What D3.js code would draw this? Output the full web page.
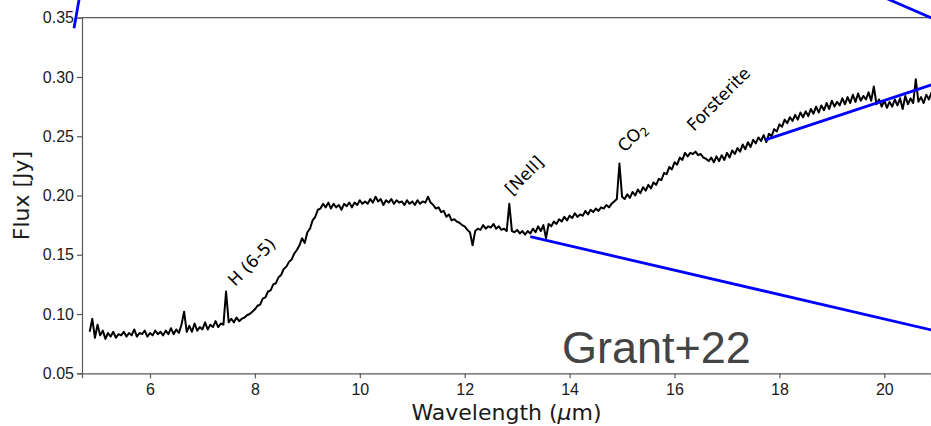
<!DOCTYPE html>
<html>
<head>
<meta charset="utf-8">
<script src="https://cdn.jsdelivr.net/npm/d3@7"></script>
<style>
  body { margin: 0; background: #fff; }
  svg { display: block; font-family: "DejaVu Sans", sans-serif; }
  .axis text { font-size: 16px; fill: #1a1a1a; }
  .axis path, .axis line { stroke: #5a5a5a; stroke-width: 1.2; }
</style>
</head>
<body>
<svg width="931" height="426"></svg>
<script>
// spectrum (wavelength in micron, flux in Jy)
var wavelength = [
  4.85, 4.90, 4.95,
  5.00, 5.05, 5.10, 5.15, 5.20, 5.25, 5.30, 5.35, 5.40, 5.45, 5.50, 5.55, 5.60, 5.65, 5.70, 5.75, 5.80, 5.85, 5.90, 5.95,
  6.00, 6.05, 6.10, 6.15, 6.20, 6.25, 6.30, 6.35, 6.40, 6.45, 6.50, 6.55, 6.60, 6.65, 6.70, 6.75, 6.80, 6.85, 6.90, 6.95,
  7.00, 7.05, 7.10, 7.15, 7.20, 7.25, 7.30, 7.35, 7.40, 7.45, 7.50, 7.55, 7.60, 7.65, 7.70, 7.75, 7.80, 7.85, 7.90, 7.95,
  8.00, 8.05, 8.10, 8.15, 8.20, 8.25, 8.30, 8.35, 8.40, 8.45, 8.50, 8.55, 8.60, 8.65, 8.70, 8.75, 8.80, 8.85, 8.90, 8.95,
  9.00, 9.05, 9.10, 9.15, 9.20, 9.25, 9.30, 9.35, 9.40, 9.45, 9.50, 9.55, 9.60, 9.65, 9.70, 9.75, 9.80, 9.85, 9.90, 9.95,
  10.00, 10.05, 10.10, 10.15, 10.20, 10.25, 10.30, 10.35, 10.40, 10.45, 10.50, 10.55, 10.60, 10.65, 10.70, 10.75, 10.80, 10.85, 10.90, 10.95,
  11.00, 11.05, 11.10, 11.15, 11.20, 11.25, 11.30, 11.35, 11.40, 11.45, 11.50, 11.55, 11.60, 11.65, 11.70, 11.75, 11.80, 11.85, 11.90, 11.95,
  12.00, 12.05, 12.10, 12.15, 12.20, 12.25, 12.30, 12.35, 12.40, 12.45, 12.50, 12.55, 12.60, 12.65, 12.70, 12.75, 12.80, 12.85, 12.90, 12.95,
  13.00, 13.05, 13.10, 13.15, 13.20, 13.25, 13.30, 13.35, 13.40, 13.45, 13.50, 13.55, 13.60, 13.65, 13.70, 13.75, 13.80, 13.85, 13.90, 13.95,
  14.00, 14.05, 14.10, 14.15, 14.20, 14.25, 14.30, 14.35, 14.40, 14.45, 14.50, 14.55, 14.60, 14.65, 14.70, 14.75, 14.80, 14.85, 14.90, 14.95,
  15.00, 15.05, 15.10, 15.15, 15.20, 15.25, 15.30, 15.35, 15.40, 15.45, 15.50, 15.55, 15.60, 15.65, 15.70, 15.75, 15.80, 15.85, 15.90, 15.95,
  16.00, 16.05, 16.10, 16.15, 16.20, 16.25, 16.30, 16.35, 16.40, 16.45, 16.50, 16.55, 16.60, 16.65, 16.70, 16.75, 16.80, 16.85, 16.90, 16.95,
  17.00, 17.05, 17.10, 17.15, 17.20, 17.25, 17.30, 17.35, 17.40, 17.45, 17.50, 17.55, 17.60, 17.65, 17.70, 17.75, 17.80, 17.85, 17.90, 17.95,
  18.00, 18.05, 18.10, 18.15, 18.20, 18.25, 18.30, 18.35, 18.40, 18.45, 18.50, 18.55, 18.60, 18.65, 18.70, 18.75, 18.80, 18.85, 18.90, 18.95,
  19.00, 19.05, 19.10, 19.15, 19.20, 19.25, 19.30, 19.35, 19.40, 19.45, 19.50, 19.55, 19.60, 19.65, 19.70, 19.75, 19.80, 19.85, 19.90, 19.95,
  20.00, 20.05, 20.10, 20.15, 20.20, 20.25, 20.30, 20.35, 20.40, 20.45, 20.50, 20.55, 20.60, 20.65, 20.70, 20.75, 20.80, 20.85, 20.90
];

var flux = [
  0.085, 0.096, 0.080,
  0.091, 0.082, 0.086, 0.079, 0.084, 0.081, 0.085, 0.080, 0.083, 0.082, 0.085, 0.081, 0.084, 0.082, 0.087, 0.081, 0.084, 0.083, 0.086, 0.081,
  0.084, 0.082, 0.086, 0.083, 0.085, 0.082, 0.086, 0.083, 0.088, 0.083, 0.087, 0.084, 0.091, 0.102, 0.085, 0.090, 0.085, 0.092, 0.086, 0.089,
  0.087, 0.093, 0.087, 0.091, 0.089, 0.094, 0.089, 0.092, 0.091, 0.119, 0.093, 0.096, 0.093, 0.097, 0.094, 0.096, 0.097, 0.099, 0.100, 0.102,
  0.104, 0.107, 0.108, 0.113, 0.114, 0.119, 0.120, 0.125, 0.126, 0.131, 0.133, 0.138, 0.140, 0.144, 0.146, 0.151, 0.154, 0.158, 0.164, 0.160,
  0.169, 0.172, 0.179, 0.182, 0.188, 0.189, 0.193, 0.190, 0.194, 0.189, 0.193, 0.190, 0.192, 0.188, 0.193, 0.191, 0.194, 0.190, 0.194, 0.192,
  0.196, 0.193, 0.195, 0.193, 0.197, 0.194, 0.199, 0.195, 0.197, 0.192, 0.196, 0.194, 0.197, 0.193, 0.196, 0.194, 0.195, 0.192, 0.196, 0.193,
  0.195, 0.192, 0.196, 0.193, 0.195, 0.194, 0.199, 0.194, 0.192, 0.189, 0.190, 0.186, 0.187, 0.182, 0.184, 0.179, 0.180, 0.178, 0.177, 0.175,
  0.174, 0.171, 0.169, 0.158, 0.170, 0.172, 0.171, 0.175, 0.172, 0.174, 0.173, 0.176, 0.172, 0.174, 0.171, 0.172, 0.170, 0.193, 0.170, 0.169,
  0.171, 0.168, 0.170, 0.167, 0.170, 0.168, 0.172, 0.169, 0.174, 0.170, 0.175, 0.164, 0.176, 0.174, 0.178, 0.176, 0.180, 0.178, 0.182, 0.179,
  0.183, 0.181, 0.185, 0.182, 0.184, 0.183, 0.187, 0.184, 0.188, 0.186, 0.189, 0.187, 0.190, 0.189, 0.192, 0.190, 0.193, 0.195, 0.197, 0.227,
  0.199, 0.197, 0.201, 0.198, 0.203, 0.200, 0.205, 0.202, 0.207, 0.204, 0.209, 0.206, 0.211, 0.209, 0.214, 0.213, 0.219, 0.218, 0.224, 0.222,
  0.228, 0.226, 0.232, 0.230, 0.236, 0.233, 0.236, 0.235, 0.237, 0.234, 0.235, 0.232, 0.231, 0.229, 0.232, 0.228, 0.233, 0.229, 0.234, 0.230,
  0.236, 0.232, 0.238, 0.235, 0.240, 0.237, 0.243, 0.239, 0.245, 0.241, 0.247, 0.244, 0.249, 0.246, 0.251, 0.245, 0.252, 0.250, 0.256, 0.254,
  0.260, 0.258, 0.264, 0.261, 0.266, 0.263, 0.268, 0.264, 0.270, 0.266, 0.271, 0.267, 0.273, 0.269, 0.275, 0.270, 0.276, 0.272, 0.278, 0.273,
  0.280, 0.275, 0.279, 0.276, 0.282, 0.277, 0.283, 0.278, 0.285, 0.279, 0.286, 0.280, 0.284, 0.281, 0.287, 0.280, 0.292, 0.277, 0.281, 0.275,
  0.280, 0.274, 0.279, 0.275, 0.281, 0.276, 0.282, 0.273, 0.284, 0.277, 0.282, 0.278, 0.298, 0.279, 0.283, 0.278, 0.285, 0.281, 0.287
];

// blue lines (two end points each)
var blueWave = [[4.551, 4.663], [19.887, 21.06], [13.25, 21.0], [17.73, 21.0]];
var blueFlux = [[0.3411, 0.3692], [0.3692, 0.3467], [0.1653, 0.0855], [0.2469, 0.2949]];

// line identifications
var lineNames = ["H (6-5)", "[NeII]", "CO", "Forsterite"];
var lineWave = [7.62, 12.90, 15.05, 16.37];
var lineFlux = [0.1228, 0.1996, 0.2359, 0.2536];

var xTicks = [6, 8, 10, 12, 14, 16, 18, 20];
var yTicks = [0.05, 0.10, 0.15, 0.20, 0.25, 0.30, 0.35];

//making var for the svg
var svg = d3.select("svg"),
    margin = {top: 17.7, right: 0, bottom: 52.7, left: 82},
    width = +svg.attr("width") - margin.left - margin.right,
    height = +svg.attr("height") - margin.top - margin.bottom;

var x = d3.scaleLinear().domain([4.7035, 20.89]).range([0, width]),
    y = d3.scaleLinear().domain([0.05, 0.35]).range([height, 0]);

var g = svg.append("g")
    .attr("transform", "translate(" + margin.left + "," + margin.top + ")");

// axes
g.append("g")
    .attr("class", "axis axis--x")
    .attr("transform", "translate(0," + height + ")")
    .call(d3.axisBottom(x).tickValues(xTicks).tickSize(5).tickPadding(5).tickFormat(d3.format("d")));

g.append("g")
    .attr("class", "axis axis--y")
    .call(d3.axisLeft(y).tickValues(yTicks).tickSize(5).tickPadding(3).tickFormat(d3.format(".2f")));

// top spine
g.append("line")
    .attr("x1", 0).attr("x2", width)
    .attr("y1", 0).attr("y2", 0)
    .attr("stroke", "#5a5a5a")
    .attr("stroke-width", 1.2);

// the spectrum
var spectrum = wavelength.map(function(w, i) { return [w, flux[i]]; });

var line = d3.line()
    .x(function(d) { return x(d[0]); })
    .y(function(d) { return y(d[1]); });

g.append("path")
    .datum(spectrum)
    .attr("fill", "none")
    .attr("stroke", "#000")
    .attr("stroke-width", 2)
    .attr("stroke-linejoin", "round")
    .attr("d", line);

// blue lines, not clipped
g.selectAll(".blue")
    .data(blueWave)
    .enter().append("line")
      .attr("class", "blue")
      .attr("x1", function(d) { return x(d[0]); })
      .attr("x2", function(d) { return x(d[1]); })
      .attr("y1", function(d, i) { return y(blueFlux[i][0]); })
      .attr("y2", function(d, i) { return y(blueFlux[i][1]); })
      .attr("stroke", "#0000ff")
      .attr("stroke-width", 2.8);

// rotated labels for the features
var labels = g.selectAll(".feature")
    .data(lineNames)
    .enter().append("text")
      .attr("class", "feature")
      .attr("transform", function(d, i) {
        return "translate(" + x(lineWave[i]) + "," + y(lineFlux[i]) + ") rotate(-45)";
      })
      .style("font-size", "17px")
      .attr("fill", "#000")
      .text(function(d) { return d; });

// subscript for CO2
labels.filter(function(d) { return d === "CO"; })
  .append("tspan")
    .attr("dy", 3.5)
    .style("font-size", "12px")
    .text("2");

// Grant+22 stamp
g.append("text")
    .attr("x", x(13.855))
    .attr("y", y(0.0587))
    .style("font-family", "'Liberation Sans', Arial, sans-serif")
    .style("font-size", "45px")
    .attr("fill", "#444")
    .text("Grant+22");

// axis labels
var xLabel = svg.append("text")
    .attr("x", margin.left + width / 2)
    .attr("y", 420)
    .attr("text-anchor", "middle")
    .style("font-size", "22px")
    .attr("fill", "#1a1a1a");
xLabel.append("tspan").text("Wavelength (");
xLabel.append("tspan").style("font-style", "italic").text("\u03bc");
xLabel.append("tspan").text("m)");

svg.append("text")
    .attr("transform", "translate(29," + (margin.top + height / 2) + ") rotate(-90)")
    .attr("text-anchor", "middle")
    .style("font-size", "22px")
    .attr("fill", "#1a1a1a")
    .text("Flux [Jy]");
</script>
</body>
</html>
